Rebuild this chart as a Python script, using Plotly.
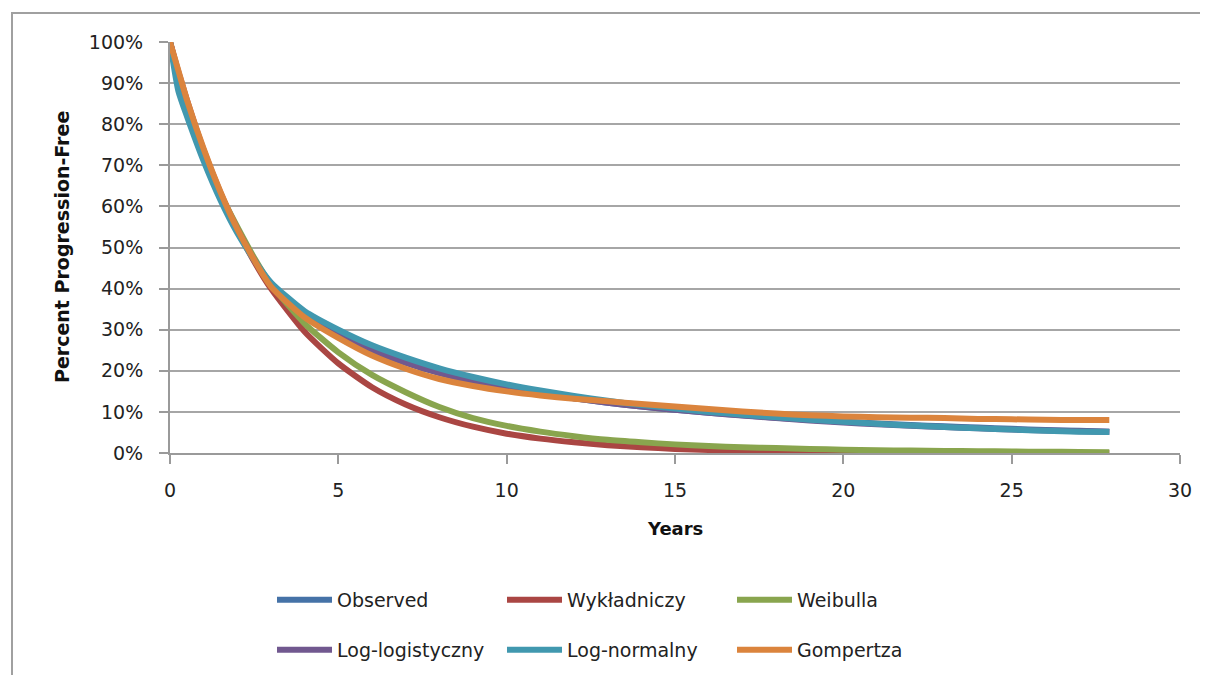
import plotly.graph_objects as go

years = [0, 0.25, 0.5, 1, 1.5, 2, 2.5, 3, 4, 5, 6, 7, 8, 9, 10, 11, 12, 13, 14, 15,
         16, 17, 18, 19, 20, 21, 22, 23, 24, 25, 26, 27, 27.9]

observed = [1.0, 0.92, 0.85, 0.73, 0.63, 0.545, 0.47, 0.41, 0.335, 0.29, 0.25, 0.22, 0.195,
            0.175, 0.16, 0.145, 0.133, 0.122, 0.113, 0.105, 0.098, 0.092, 0.086, 0.081,
            0.076, 0.072, 0.068, 0.065, 0.062, 0.059, 0.056, 0.054, 0.052]
wykladniczy = [1.0, 0.927, 0.86, 0.737, 0.633, 0.543, 0.466, 0.40, 0.295, 0.218, 0.16, 0.118,
               0.087, 0.064, 0.047, 0.035, 0.026, 0.019, 0.014, 0.010, 0.0075, 0.0055, 0.004,
               0.003, 0.002, 0.0017, 0.0012, 0.0009, 0.0007, 0.0005, 0.0004, 0.0003, 0.0002]
weibulla = [1.0, 0.90, 0.84, 0.73, 0.63, 0.55, 0.475, 0.41, 0.315, 0.245, 0.19, 0.148, 0.112,
            0.085, 0.066, 0.052, 0.041, 0.032, 0.026, 0.021, 0.017, 0.014, 0.012, 0.010,
            0.008, 0.0068, 0.0058, 0.005, 0.0043, 0.0037, 0.003, 0.0025, 0.002]
log_logistyczny = [1.0, 0.92, 0.85, 0.73, 0.63, 0.545, 0.47, 0.41, 0.335, 0.29, 0.25, 0.22,
                   0.195, 0.175, 0.16, 0.145, 0.133, 0.122, 0.113, 0.105, 0.098, 0.091, 0.085,
                   0.079, 0.074, 0.07, 0.066, 0.063, 0.06, 0.057, 0.055, 0.053, 0.052]
log_normalny = [1.0, 0.88, 0.82, 0.71, 0.615, 0.535, 0.47, 0.415, 0.345, 0.30, 0.262, 0.232,
                0.206, 0.185, 0.167, 0.152, 0.139, 0.127, 0.117, 0.108, 0.100, 0.093, 0.087,
                0.081, 0.076, 0.071, 0.067, 0.063, 0.06, 0.057, 0.054, 0.052, 0.051]
gompertza = [1.0, 0.93, 0.86, 0.74, 0.635, 0.545, 0.47, 0.405, 0.33, 0.28, 0.237, 0.205, 0.18,
             0.163, 0.15, 0.14, 0.132, 0.126, 0.119, 0.113, 0.107, 0.101, 0.096, 0.092, 0.089,
             0.087, 0.086, 0.085, 0.083, 0.082, 0.081, 0.08, 0.08]

series_names = ["Observed", "Wykładniczy", "Weibulla", "Log-logistyczny", "Log-normalny", "Gompertza"]
series_values = [observed, wykladniczy, weibulla, log_logistyczny, log_normalny, gompertza]
series_colors = ["#4572A7", "#AA4643", "#89A54E", "#71588F", "#4198AF", "#DB843D"]
legend_ids = ["legend", "legend", "legend", "legend2", "legend2", "legend2"]

x_ticks = [0, 5, 10, 15, 20, 25, 30]
y_ticks = [0, 0.1, 0.2, 0.3, 0.4, 0.5, 0.6, 0.7, 0.8, 0.9, 1.0]
y_tick_labels = ["0%", "10%", "20%", "30%", "40%", "50%", "60%", "70%", "80%", "90%", "100%"]

FONT = "DejaVu Sans"

fig = go.Figure()
for name, vals, col, lg in zip(series_names, series_values, series_colors, legend_ids):
    fig.add_trace(go.Scatter(x=years, y=vals, mode="lines", name=name,
                             line=dict(color=col, width=6, shape="spline", smoothing=0.6),
                             legend=lg))

# page offset (body margin) compensation
OFF = 8
W, H = 1208, 675
# target plot area in screenshot pixels: x 170..1180, y 42..453
L = 170 - OFF
T = 42 - OFF
R = W - (1180 - OFF)
B = H - (453 - OFF)
pw, ph = W - L - R, H - T - B

def px(xs):
    # screenshot x pixel -> paper fraction
    return (xs - OFF - L) / pw

def py(ys):
    # screenshot y pixel -> paper fraction
    return (H - B - (ys - OFF)) / ph

fig.update_layout(
    width=W, height=H,
    margin=dict(l=L, r=R, t=T, b=B),
    paper_bgcolor="white", plot_bgcolor="white",
    font=dict(family=FONT, size=19, color="#222222"),
    xaxis=dict(range=[0, 30], tickvals=x_ticks, showgrid=False, zeroline=False,
               showline=True, linecolor="#9a9a9a", linewidth=2,
               ticks="outside", ticklen=9, tickcolor="#9a9a9a", tickwidth=2,
               tickfont=dict(size=19, family=FONT, color="#222222"),
               ticklabelstandoff=10),
    yaxis=dict(range=[0, 1.0], tickvals=y_ticks, ticktext=y_tick_labels,
               showgrid=True, gridcolor="#a6a6a6", gridwidth=2, zeroline=False,
               showline=True, linecolor="#9a9a9a", linewidth=2,
               ticks="outside", ticklen=9, tickcolor="#9a9a9a", tickwidth=2,
               tickfont=dict(size=19, family=FONT, color="#222222"),
               ticklabelstandoff=12),
    legend=dict(orientation="h", x=px(272), y=py(600), xanchor="left", yanchor="middle",
                entrywidth=160, entrywidthmode="pixels", font=dict(size=19, family=FONT),
                bgcolor="rgba(0,0,0,0)", itemwidth=55, tracegroupgap=0),
    legend2=dict(orientation="h", x=px(272), y=py(650), xanchor="left", yanchor="middle",
                 entrywidth=160, entrywidthmode="pixels", font=dict(size=19, family=FONT),
                 bgcolor="rgba(0,0,0,0)", itemwidth=55, tracegroupgap=0),
    annotations=[
        dict(text="<b>Years</b>", x=px(675), y=py(528), xref="paper", yref="paper",
             showarrow=False, xanchor="center", yanchor="middle",
             font=dict(size=18, family=FONT, color="#111111")),
        dict(text="<b>Percent Progression-Free</b>", x=px(62), y=py(247), xref="paper",
             yref="paper", showarrow=False, textangle=-90, xanchor="center", yanchor="middle",
             font=dict(size=19, family=FONT, color="#111111")),
    ],
    shapes=[dict(type="rect", xref="paper", yref="paper", x0=px(12), x1=px(1206),
                 y0=py(700), y1=py(13), line=dict(color="#a0a0a0", width=2),
                 fillcolor="rgba(0,0,0,0)", layer="below")],
)

fig.write_html("out.html")
